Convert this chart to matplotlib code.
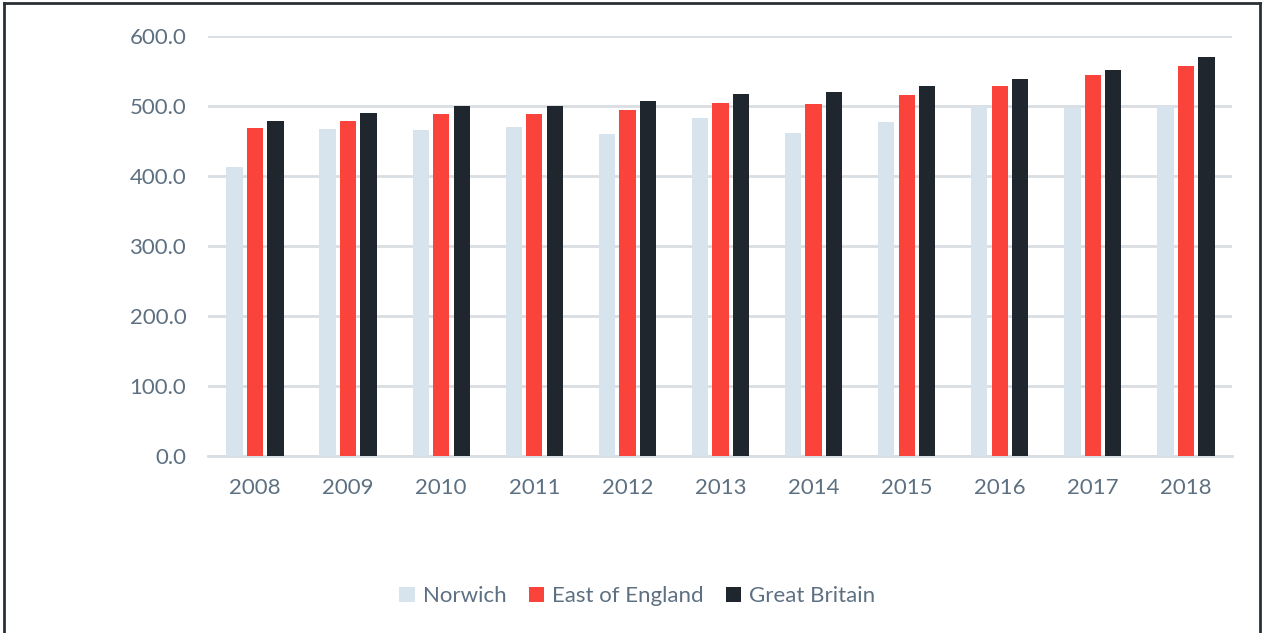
import matplotlib.pyplot as plt
import numpy as np
from matplotlib.lines import Line2D

years = ["2008", "2009", "2010", "2011", "2012", "2013", "2014", "2015", "2016", "2017", "2018"]
norwich = [413, 467, 465, 470, 460, 483, 461, 477, 500, 497, 500]
east_of_england = [468, 478, 488, 488, 494, 504, 503, 516, 528, 544, 557]
great_britain = [478, 490, 500, 500, 507, 517, 520, 528, 539, 551, 570]

series_names = ["Norwich", "East of England", "Great Britain"]
colors = ["#d7e4ee", "#fa433a", "#1f262d"]
text_color = "#5d7082"
grid_color = "#d9dee3"

plt.rcParams["font.family"] = ["Lato", "DejaVu Sans"]

fig = plt.figure(figsize=(12.62, 6.33), dpi=100)
ax = fig.add_axes([0.1652, 0.2801, 0.8114, 0.6630])

x = np.arange(len(years))
width = 0.175
offset = 0.22
for i, (name, vals) in enumerate(zip(series_names, [norwich, east_of_england, great_britain])):
    ax.bar(x + (i - 1) * offset, vals, width=width, color=colors[i], label=name, zorder=3)

ax.set_xlim(-0.5, len(years) - 0.5)
ax.set_ylim(0, 600)
ax.set_yticks(np.arange(0, 601, 100))
ax.set_yticklabels([f"{v:.1f}" for v in np.arange(0, 601, 100)])
ax.set_xticks(x)
ax.set_xticklabels(years)
ax.yaxis.grid(True, color=grid_color, linewidth=2, zorder=0)
ax.set_axisbelow(True)
for side in ["top", "right", "left"]:
    ax.spines[side].set_visible(False)
ax.spines["bottom"].set_color(grid_color)
ax.spines["bottom"].set_linewidth(2)
ax.tick_params(axis="both", length=0, labelsize=16, colors=text_color)
ax.tick_params(axis="y", pad=16)
ax.tick_params(axis="x", pad=16)

leg = fig.legend(loc="center", bbox_to_anchor=(0.505, 0.058), ncol=3, frameon=False,
                 fontsize=16, handlelength=0.7, handleheight=0.7, handletextpad=0.35,
                 columnspacing=1.0)
for t in leg.get_texts():
    t.set_color(text_color)

# outer frame (left, top, right)
fig.add_artist(Line2D([0.0035, 0.0035], [0, 0.995], color="#2a3038", linewidth=2, transform=fig.transFigure))
fig.add_artist(Line2D([0.0035, 0.9985], [0.995, 0.995], color="#2a3038", linewidth=2, transform=fig.transFigure))
fig.add_artist(Line2D([0.9985, 0.9985], [0, 0.995], color="#2a3038", linewidth=2, transform=fig.transFigure))

fig.savefig("out.png", dpi=100)
